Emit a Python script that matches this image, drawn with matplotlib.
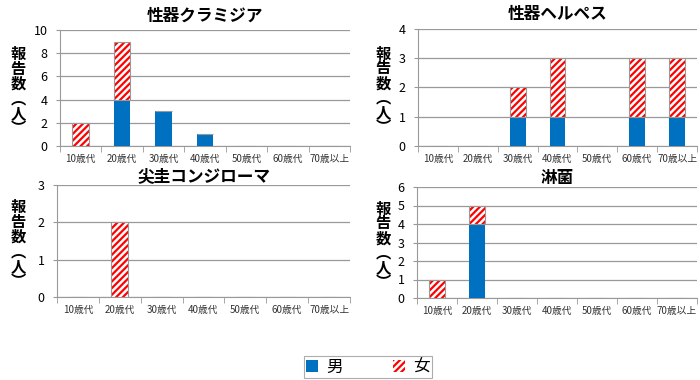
import numpy as np
import matplotlib.pyplot as plt
from matplotlib.patches import Patch

plt.rcParams['font.family'] = ['Noto Sans CJK JP', 'DejaVu Sans']
plt.rcParams['hatch.linewidth'] = 1.6

categories = ['10歳代', '20歳代', '30歳代', '40歳代', '50歳代', '60歳代', '70歳以上']

chlamydia_m = [0, 4, 3, 1, 0, 0, 0]
chlamydia_f = [2, 5, 0, 0, 0, 0, 0]
herpes_m = [0, 0, 1, 1, 0, 1, 1]
herpes_f = [0, 0, 1, 2, 0, 2, 2]
condyloma_m = [0, 0, 0, 0, 0, 0, 0]
condyloma_f = [0, 2, 0, 0, 0, 0, 0]
gonorrhea_m = [0, 4, 0, 0, 0, 0, 0]
gonorrhea_f = [1, 1, 0, 0, 0, 0, 0]

titles = ['性器クラミジア', '性器ヘルペス', '尖圭コンジローマ', '淋菌']
ymaxes = [10, 4, 3, 6]
ysteps = [2, 1, 1, 1]

blue = '#0070C0'
red = '#FF0000'
W, H = 700, 380

fig = plt.figure(figsize=(7, 3.8), dpi=100)

# axes boxes in pixels: left, top, right, bottom
boxes = [(60, 30, 350, 146), (418, 29, 697, 146),
         (57, 185, 350, 297), (417, 187, 697, 298)]
males = [chlamydia_m, herpes_m, condyloma_m, gonorrhea_m]
females = [chlamydia_f, herpes_f, condyloma_f, gonorrhea_f]

x = np.arange(len(categories))
bw = 0.4

for i in range(4):
    l, t, r, b = boxes[i]
    ax = fig.add_axes([l / W, (H - b) / H, (r - l) / W, (b - t) / H])
    m = np.array(males[i])
    f = np.array(females[i])
    ax.bar(x, m, bw, color=blue, edgecolor='none', zorder=3)
    ax.bar(x, f, bw, bottom=m, color='white', edgecolor=red, hatch='/////',
           linewidth=0, zorder=3)
    ax.bar(x, f, bw, bottom=m, fill=False, edgecolor='#999999',
           linewidth=0.8, zorder=4)
    ax.set_xlim(-0.5, len(categories) - 0.5)
    ax.set_ylim(0, ymaxes[i])
    ax.set_yticks(np.arange(0, ymaxes[i] + 0.1, ysteps[i]))
    ax.yaxis.grid(True, color='#999999', linewidth=0.9, zorder=0)
    ax.set_axisbelow(True)
    for s in ['top', 'right']:
        ax.spines[s].set_visible(False)
    ax.spines['left'].set_color('#999999')
    ax.spines['bottom'].set_color('#999999')
    ax.set_xticks(x)
    ax.set_xticklabels(categories, fontsize=7, color='#333333')
    ax.set_xticks(np.arange(-0.5, len(categories)), minor=True)
    ax.tick_params(axis='x', which='major', length=0, pad=6)
    ax.tick_params(axis='x', which='minor', length=4, color='#999999')
    ax.tick_params(axis='y', length=3, color='#999999', labelsize=9, pad=6)
    ax.set_title(titles[i], fontsize=12, fontweight='bold',
                 pad=7 if i < 2 else 0)
    cx = 18 if l < 100 else 383
    cy = (t + b) / 2 + 3
    fig.text(cx / W, (H - cy) / H, '報\n告\n数\n︵\n人\n︶', ha='center',
             va='center', fontsize=11, fontweight='bold', linespacing=0.9)

handles = [Patch(facecolor=blue, edgecolor='none', label='男'),
           Patch(facecolor='white', edgecolor=red, hatch='/////', linewidth=0,
                 label='女')]
leg = fig.legend(handles=handles, loc='center', bbox_to_anchor=(368 / W, (H - 367) / H),
                 ncol=2, fontsize=12, frameon=True, fancybox=False,
                 edgecolor='#999999', handlelength=0.7, handleheight=0.7,
                 columnspacing=3.0, handletextpad=0.5, borderpad=0.15,
                 borderaxespad=0)
leg.get_frame().set_linewidth(0.8)

fig.savefig('out.png', dpi=100)
